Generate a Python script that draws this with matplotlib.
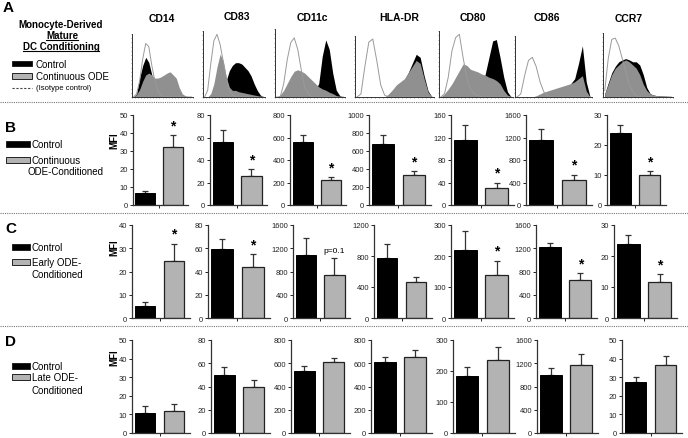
import matplotlib
matplotlib.use("Agg")
import matplotlib.pyplot as plt
import numpy as np
from matplotlib.patches import Rectangle
from matplotlib.lines import Line2D

plt.rcParams['font.family'] = ['Liberation Sans', 'DejaVu Sans']

# ---------------- data ----------------
markers = ["CD14", "CD83", "CD11c", "HLA-DR", "CD80", "CD86", "CCR7"]

# Panel A histograms (relative heights over 20 bins of fluorescence)
hist_isotype = [
    [0, 0.05, 0.25, 0.6, 0.85, 0.8, 0.5, 0.25, 0.1, 0.03, 0, 0, 0, 0, 0, 0, 0, 0, 0, 0],
    [0, 0.1, 0.5, 0.85, 0.95, 0.8, 0.55, 0.3, 0.1, 0.03, 0, 0, 0, 0, 0, 0, 0, 0, 0, 0],
    [0, 0, 0.2, 0.55, 0.8, 0.87, 0.7, 0.4, 0.15, 0.05, 0, 0, 0, 0, 0, 0, 0, 0, 0, 0],
    [0, 0.05, 0.5, 0.9, 0.95, 0.6, 0.2, 0.03, 0, 0, 0, 0, 0, 0, 0, 0, 0, 0, 0, 0],
    [0, 0.05, 0.3, 0.7, 0.9, 0.95, 0.6, 0.3, 0.12, 0.05, 0.02, 0, 0, 0, 0, 0, 0, 0, 0, 0],
    [0, 0.05, 0.35, 0.6, 0.65, 0.5, 0.25, 0.08, 0.02, 0, 0, 0, 0, 0, 0, 0, 0, 0, 0, 0],
    [0.1, 0.6, 0.9, 0.92, 0.8, 0.6, 0.4, 0.2, 0.08, 0.02, 0, 0, 0, 0, 0, 0, 0, 0, 0, 0],
]
hist_control = [
    [0, 0.05, 0.3, 0.5, 0.63, 0.55, 0.35, 0.2, 0.1, 0.05, 0.02, 0, 0, 0, 0, 0, 0, 0, 0, 0],
    [0, 0, 0, 0, 0, 0.05, 0.1, 0.25, 0.4, 0.48, 0.52, 0.52, 0.5, 0.45, 0.4, 0.32, 0.2, 0.1, 0.03, 0],
    [0, 0, 0, 0, 0, 0, 0, 0, 0, 0, 0.05, 0.1, 0.2, 0.6, 0.84, 0.7, 0.35, 0.1, 0.02, 0],
    [0, 0, 0, 0, 0, 0, 0, 0, 0.03, 0.1, 0.18, 0.22, 0.28, 0.4, 0.55, 0.7, 0.65, 0.35, 0.1, 0],
    [0, 0, 0, 0, 0, 0, 0, 0, 0, 0, 0.05, 0.15, 0.35, 0.6, 0.85, 0.87, 0.6, 0.3, 0.08, 0],
    [0, 0, 0, 0, 0, 0, 0, 0, 0, 0, 0, 0, 0, 0, 0.22, 0.3, 0.55, 0.84, 0.25, 0],
    [0.05, 0.22, 0.38, 0.48, 0.55, 0.58, 0.6, 0.58, 0.55, 0.55, 0.5, 0.35, 0.15, 0.05, 0.03, 0.02, 0.02, 0.01, 0.01, 0],
]
hist_ode = [
    [0, 0.04, 0.12, 0.25, 0.35, 0.38, 0.35, 0.3, 0.3, 0.32, 0.35, 0.38, 0.4, 0.35, 0.3, 0.15, 0.05, 0.02, 0, 0],
    [0, 0, 0.05, 0.2, 0.45, 0.65, 0.55, 0.3, 0.15, 0.1, 0.1, 0.08, 0.07, 0.06, 0.05, 0.04, 0.03, 0.02, 0, 0],
    [0, 0.03, 0.1, 0.2, 0.3, 0.38, 0.4, 0.38, 0.35, 0.3, 0.25, 0.2, 0.15, 0.12, 0.1, 0.07, 0.05, 0.02, 0, 0],
    [0, 0, 0, 0, 0, 0, 0, 0, 0.05, 0.12, 0.2, 0.25, 0.3, 0.4, 0.5, 0.6, 0.55, 0.3, 0.08, 0],
    [0, 0.05, 0.12, 0.2, 0.3, 0.4, 0.5, 0.48, 0.42, 0.4, 0.38, 0.35, 0.33, 0.3, 0.28, 0.25, 0.2, 0.1, 0.03, 0],
    [0, 0, 0, 0, 0, 0.02, 0.05, 0.08, 0.1, 0.12, 0.14, 0.16, 0.18, 0.2, 0.22, 0.25, 0.3, 0.35, 0.1, 0],
    [0.05, 0.2, 0.35, 0.45, 0.5, 0.55, 0.58, 0.55, 0.5, 0.45, 0.35, 0.2, 0.1, 0.05, 0.03, 0.02, 0.02, 0.02, 0.01, 0.01],
]

# Panel B: continuous ODE
b_control = [6.5, 56, 560, 680, 115, 1150, 24]
b_control_err = [1.5, 11, 60, 95, 28, 200, 2.7]
b_ode = [32, 26, 220, 330, 31, 450, 10]
b_ode_err = [7, 6, 30, 50, 9, 90, 1.3]
b_sig = ["*", "*", "*", "*", "*", "*", "*"]
b_ymax = [50, 80, 800, 1000, 160, 1600, 30]
b_ystep = [10, 20, 200, 200, 40, 400, 10]

# Panel C: early ODE
c_control = [5, 59, 1080, 775, 220, 1230, 23.8]
c_control_err = [2, 9, 300, 185, 62, 60, 3]
c_ode = [24.5, 44, 740, 470, 138, 650, 11.5]
c_ode_err = [7.5, 11, 290, 65, 47, 120, 2.7]
c_sig = ["*", "*", "p=0.1", "", "*", "*", "*"]
c_ymax = [40, 80, 1600, 1200, 300, 1600, 30]
c_ystep = [10, 20, 400, 400, 100, 400, 10]

# Panel D: late ODE
d_control = [11, 49.5, 535, 615, 185, 990, 27.5]
d_control_err = [3.5, 7.5, 40, 40, 28, 120, 2.5]
d_ode = [12, 39.5, 610, 650, 235, 1170, 36.5]
d_ode_err = [3.8, 6, 38, 65, 43, 190, 5]
d_sig = ["", "", "", "", "", "", ""]
d_ymax = [50, 80, 800, 800, 300, 1600, 50]
d_ystep = [10, 20, 200, 200, 100, 400, 10]

# ---------------- layout ----------------
W, H = 688, 439
fig = plt.figure(figsize=(W / 100, H / 100), dpi=100)

def add_ax(x0, y0, x1, y1):
    return fig.add_axes([x0 / W, 1 - y1 / H, (x1 - x0) / W, (y1 - y0) / H])

def ftext(x, y, s, **kw):
    return fig.text(x / W, 1 - y / H, s, **kw)

def frect(x0, y0, x1, y1, fc, ec="#222222", lw=0.7):
    fig.patches.append(Rectangle((x0 / W, 1 - y1 / H), (x1 - x0) / W, (y1 - y0) / H,
                                 transform=fig.transFigure, facecolor=fc, edgecolor=ec, linewidth=lw))

def fline(x0, y0, x1, y1, **kw):
    fig.lines.append(Line2D([x0 / W, x1 / W], [1 - y0 / H, 1 - y1 / H], transform=fig.transFigure, **kw))

GRAY = "#b3b3b3"

# separators
for yy in (103, 214, 327):
    fline(0, yy, W, yy, color="#777777", linewidth=0.8, linestyle=(0, (1, 1)))

# ---------------- Panel A ----------------
ftext(3, 8, "A", fontsize=11, fontweight="bold", va="center", ha="left")
ftext(61, 25, "Monocyte-Derived", fontsize=7, fontweight="bold", ha="center", va="center")
t_mat = ftext(62, 36, "Mature", fontsize=7, fontweight="bold", ha="center", va="center")
t_dc = ftext(61, 47, "DC Conditioning", fontsize=7, fontweight="bold", ha="center", va="center")
fig.canvas.draw()
rend = fig.canvas.get_renderer()
for t in (t_mat, t_dc):
    bb = t.get_window_extent(rend)
    yb = bb.y0 + 0.5
    fig.lines.append(Line2D([bb.x0 / W, bb.x1 / W], [yb / H, yb / H], transform=fig.transFigure,
                            color="black", linewidth=0.8))

frect(12, 62, 32, 67, "black")
ftext(36, 64.5, "Control", fontsize=7, va="center")
frect(12, 74, 32, 80, GRAY)
ftext(36, 77, "Continuous ODE", fontsize=7, va="center")
fline(12, 89, 32, 89, color="#444444", linewidth=0.8, linestyle=(0, (2, 1.5)))
ftext(36, 89, "(Isotype control)", fontsize=5.5, va="center")

hist_boxes = [(132, 35, 193, 98), (203, 32, 265, 98), (275, 30, 345, 98), (355, 37, 434, 98),
              (439, 32, 513, 98), (515, 37, 592, 98), (603, 34, 673, 98)]
title_pos = [(162, 19), (237, 17), (312, 18), (399, 18), (473, 18), (547, 18), (629, 19)]

for i, m in enumerate(markers):
    x0, y0, x1, y1 = hist_boxes[i]
    ax = add_ax(x0, y0, x1, y1)
    n = len(hist_isotype[i])
    xs = (np.arange(n) + 0.5) / n
    ax.fill_between(xs, 0, hist_control[i], color="black", linewidth=0)
    ax.fill_between(xs, 0, hist_ode[i], color="#909090", linewidth=0)
    ax.plot(xs, hist_isotype[i], color="#9a9a9a", linewidth=0.7)
    ax.set_xlim(0, 1)
    ax.set_ylim(0, 1.0)
    for s in ("top", "right"):
        ax.spines[s].set_visible(False)
    for s in ("left", "bottom"):
        ax.spines[s].set_linewidth(0.7)
        ax.spines[s].set_color("#333333")
    ax.set_xticks(np.linspace(0, 1, 21))
    ax.set_yticks(np.linspace(0, 1, 16))
    ax.tick_params(length=1, width=0.4, labelleft=False, labelbottom=False, color="#555555")
    ftext(title_pos[i][0], title_pos[i][1], m, fontsize=7.5, fontweight="bold", ha="center", va="center")

# ---------------- Bar panels ----------------
rows = [
    dict(label="B", ly=128, y=(116, 206), ctrl=b_control, ce=b_control_err, ode=b_ode, oe=b_ode_err,
         sig=b_sig, ymax=b_ymax, ystep=b_ystep,
         cols=[(133, 188), (210, 267), (290, 346), (369, 431), (451, 514), (526, 592), (607, 666)],
         leg=[(6, 30, 142, 148, ["Control"]), (6, 30, 158, 164, ["Continuous"])], extra=(27, 172, "ODE-Conditioned"),
         mfi=141),
    dict(label="C", ly=229, y=(226, 319), ctrl=c_control, ce=c_control_err, ode=c_ode, oe=c_ode_err,
         sig=c_sig, ymax=c_ymax, ystep=c_ystep,
         cols=[(132, 190), (208, 270), (293, 350), (374, 432), (451, 514), (536, 597), (614, 677)],
         leg=[(12, 30, 245, 251, ["Control"]), (12, 30, 260, 266, ["Early ODE-"])], extra=(32, 275, "Conditioned"),
         mfi=248),
    dict(label="D", ly=342, y=(341, 434), ctrl=d_control, ce=d_control_err, ode=d_ode, oe=d_ode_err,
         sig=d_sig, ymax=d_ymax, ystep=d_ystep,
         cols=[(132, 190), (211, 270), (291, 350), (371, 432), (453, 515), (537, 598), (622, 682)],
         leg=[(12, 30, 364, 370, ["Control"]), (12, 30, 375, 381, ["Late ODE-"])], extra=(32, 391, "Conditioned"),
         mfi=358),
]

for r in rows:
    ftext(5, r["ly"], r["label"], fontsize=11, fontweight="bold", va="center", ha="left")
    for k, (lx0, lx1, ly0, ly1, txt) in enumerate(r["leg"]):
        frect(lx0, ly0, lx1, ly1, "black" if k == 0 else GRAY)
        ftext(lx1 + 2, (ly0 + ly1) / 2, txt[0], fontsize=7, va="center")
    ex = r["extra"]
    ftext(ex[0], ex[1], ex[2], fontsize=7, va="center")
    ftext(114, r["mfi"], "MFI", fontsize=7, fontweight="bold", rotation=90, ha="center", va="center")
    ya, yb = r["y"]
    for i in range(len(markers)):
        xa, xb = r["cols"][i]
        ax = add_ax(xa, ya, xb, yb)
        ax.bar([0], [r["ctrl"][i]], width=0.72, color="black", edgecolor="black", linewidth=0.7, zorder=2)
        ax.bar([1], [r["ode"][i]], width=0.72, color=GRAY, edgecolor="#222222", linewidth=0.9, zorder=2)
        ax.errorbar([0], [r["ctrl"][i]], yerr=[[0], [r["ce"][i]]], fmt="none", ecolor="#333333",
                    elinewidth=0.9, capsize=2.2, capthick=0.9, zorder=1)
        ax.errorbar([1], [r["ode"][i]], yerr=[[0], [r["oe"][i]]], fmt="none", ecolor="#333333",
                    elinewidth=0.9, capsize=2.2, capthick=0.9, zorder=1)
        ax.set_xlim(-0.45, 1.55)
        ax.set_ylim(0, r["ymax"][i])
        ax.set_yticks(np.arange(0, r["ymax"][i] + 1e-9, r["ystep"][i]))
        ax.set_xticks([0.5])
        ax.set_xticklabels([])
        ax.tick_params(axis="y", labelsize=5.5, length=2, width=0.7, pad=1.5, colors="#222222")
        ax.tick_params(axis="x", length=2, width=0.7, colors="#222222")
        for s in ("top", "right"):
            ax.spines[s].set_visible(False)
        for s in ("left", "bottom"):
            ax.spines[s].set_linewidth(0.9)
            ax.spines[s].set_color("#333333")
        ax.patch.set_alpha(0)
        sg = r["sig"][i]
        top = r["ode"][i] + r["oe"][i]
        if sg == "*":
            ax.annotate("*", (1, top), xytext=(0, 2), textcoords="offset points", ha="center", va="bottom",
                        fontsize=10, fontweight="bold")
        elif sg:
            ax.annotate(sg, (1, top), xytext=(0, 3), textcoords="offset points", ha="center", va="bottom",
                        fontsize=6)

fig.savefig("out.png", dpi=100)
